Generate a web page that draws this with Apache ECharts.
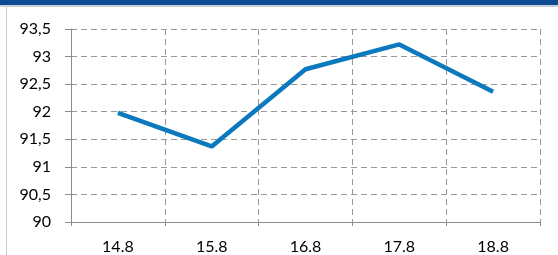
<!DOCTYPE html>
<html>
<head>
<meta charset="utf-8">
<script src="https://cdn.jsdelivr.net/npm/echarts@6/dist/echarts.min.js"></script>
<style>
  html, body { margin: 0; padding: 0; background: #fff; }
  #chart { width: 558px; height: 255px; }
</style>
</head>
<body>
<div id="chart"></div>
<script>
// categories and values
const categories = ['14.8', '15.8', '16.8', '17.8', '18.8']
const values = [91.98, 91.37, 92.77, 93.22, 92.36]

const chart = echarts.init(document.getElementById('chart'))
chart.setOption({
  animation: false,
  grid: { left: 71, right: 18, top: 29, bottom: 33 },
  graphic: [
    // blue band on top
    { type: 'rect', shape: { x: 0, y: 0, width: 558, height: 5 }, style: { fill: '#0d4a94' } },
    { type: 'rect', shape: { x: 0, y: 5, width: 558, height: 2 }, style: { fill: '#c9cfd8' } },
    // left frame line
    { type: 'line', shape: { x1: 6.5, y1: 7, x2: 6.5, y2: 255 }, style: { stroke: '#c8c8c8', lineWidth: 1 } }
  ],
  xAxis: {
    type: 'category',
    data: categories,
    boundaryGap: true,
    axisLine: { lineStyle: { color: '#8c8c8c', width: 1 } },
    axisTick: { show: true, length: 4, lineStyle: { color: '#8c8c8c' } },
    axisLabel: { color: '#000', fontSize: 16, margin: 17, fontFamily: 'Lato' },
    splitLine: { show: true, lineStyle: { color: '#999', type: [6, 4], width: 1 } }
  },
  yAxis: {
    type: 'value',
    min: 90,
    max: 93.5,
    interval: 0.5,
    axisLine: { show: true, lineStyle: { color: '#8c8c8c', width: 1 } },
    axisTick: { show: true, length: 6, lineStyle: { color: '#8c8c8c' } },
    axisLabel: {
      color: '#000', fontSize: 16, margin: 20, fontFamily: 'Lato',
      formatter: v => String(v).replace('.', ',')
    },
    splitLine: { show: true, lineStyle: { color: '#999', type: [6, 4], width: 1 } }
  },
  series: [
    {
      type: 'line',
      data: values,
      symbol: 'none',
      lineStyle: { color: '#0a79bd', width: 4.5 },
      itemStyle: { color: '#0a79bd' }
    }
  ]
})
</script>
</body>
</html>
